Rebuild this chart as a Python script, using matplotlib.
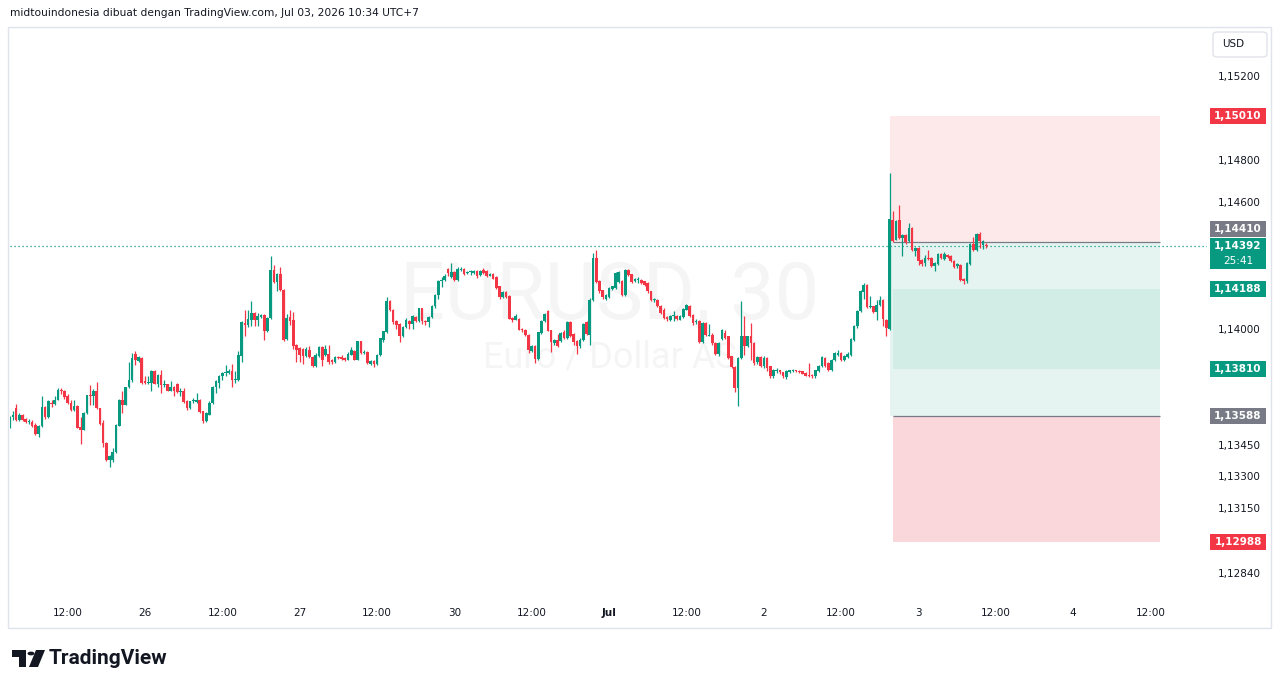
import numpy as np
import matplotlib
matplotlib.use("Agg")
import matplotlib.pyplot as plt
import matplotlib.transforms as mtransforms
from matplotlib.patches import Rectangle, FancyBboxPatch, Polygon, Circle

# EURUSD 30 menit, 25 Jun 03:00 - 3 Jul 10:30 (UTC+7)
opens = [
    1.13533, 1.13581, 1.13623, 1.13565, 1.13592, 1.13571, 1.13557, 1.13557, 1.13544, 1.13502,
    1.13540, 1.13627, 1.13581, 1.13650, 1.13642, 1.13660, 1.13711, 1.13706, 1.13679, 1.13650,
    1.13616, 1.13635, 1.13533, 1.13521, 1.13600, 1.13687, 1.13682, 1.13706, 1.13623, 1.13552,
    1.13460, 1.13375, 1.13378, 1.13413, 1.13540, 1.13660, 1.13639, 1.13723, 1.13758, 1.13882,
    1.13845, 1.13861, 1.13750, 1.13742, 1.13742, 1.13798, 1.13739, 1.13782, 1.13734, 1.13737,
    1.13707, 1.13726, 1.13739, 1.13698, 1.13706, 1.13655, 1.13624, 1.13655, 1.13652, 1.13663,
    1.13608, 1.13560, 1.13592, 1.13647, 1.13726, 1.13742, 1.13774, 1.13790, 1.13790, 1.13798,
    1.13755, 1.13755, 1.13872, 1.14027, 1.14019, 1.14043, 1.14075, 1.14040, 1.14056, 1.14067,
    1.13988, 1.14051, 1.14281, 1.14220, 1.14262, 1.14186, 1.13951, 1.14056, 1.14040, 1.13924,
    1.13909, 1.13905, 1.13869, 1.13901, 1.13866, 1.13821, 1.13869, 1.13912, 1.13874, 1.13880,
    1.13853, 1.13840, 1.13864, 1.13866, 1.13861, 1.13853, 1.13877, 1.13896, 1.13853, 1.13940,
    1.13885, 1.13890, 1.13834, 1.13845, 1.13834, 1.13874, 1.13948, 1.13983, 1.14130, 1.14091,
    1.14035, 1.14024, 1.13964, 1.14008, 1.14038, 1.14024, 1.14054, 1.14035, 1.14098, 1.14038,
    1.14030, 1.14056, 1.14106, 1.14162, 1.14225, 1.14230, 1.14283, 1.14246, 1.14268, 1.14230,
    1.14281, 1.14285, 1.14265, 1.14268, 1.14265, 1.14273, 1.14257, 1.14281, 1.14273, 1.14252,
    1.14262, 1.14246, 1.14201, 1.14151, 1.14173, 1.14157, 1.14051, 1.14043, 1.14046, 1.14000,
    1.13996, 1.13972, 1.13896, 1.13920, 1.13856, 1.13980, 1.14035, 1.14083, 1.13992, 1.13932,
    1.13945, 1.13940, 1.13983, 1.13956, 1.14030, 1.13975, 1.13940, 1.13916, 1.13945, 1.14030,
    1.13972, 1.14135, 1.14336, 1.14225, 1.14182, 1.14141, 1.14151, 1.14189, 1.14193, 1.14220,
    1.14225, 1.14162, 1.14277, 1.14260, 1.14225, 1.14233, 1.14233, 1.14225, 1.14217, 1.14178,
    1.14135, 1.14138, 1.14110, 1.14087, 1.14056, 1.14043, 1.14059, 1.14062, 1.14043, 1.14056,
    1.14091, 1.14106, 1.14067, 1.14032, 1.14038, 1.13935, 1.14027, 1.13967, 1.13972, 1.13932,
    1.13882, 1.13951, 1.13980, 1.13964, 1.13869, 1.13818, 1.13719, 1.13861, 1.13964, 1.13920,
    1.13964, 1.13932, 1.13840, 1.13866, 1.13825, 1.13861, 1.13821, 1.13774, 1.13798, 1.13802,
    1.13793, 1.13771, 1.13796, 1.13798, 1.13802, 1.13800, 1.13798, 1.13790, 1.13780, 1.13780,
    1.13774, 1.13798, 1.13821, 1.13861, 1.13837, 1.13806, 1.13850, 1.13877, 1.13885, 1.13850,
    1.13866, 1.13877, 1.13948, 1.14011, 1.14083, 1.14173, 1.14209, 1.14103, 1.14106, 1.14078,
    1.14114, 1.14138, 1.14043, 1.13999, 1.14518, 1.14423, 1.14518, 1.14431, 1.14447, 1.14415,
    1.14479, 1.14368, 1.14383, 1.14325, 1.14312, 1.14336, 1.14336, 1.14296, 1.14309, 1.14355,
    1.14331, 1.14352, 1.14347, 1.14323, 1.14296, 1.14304, 1.14236, 1.14225, 1.14309, 1.14404,
    1.14372, 1.14452, 1.14399, 1.14399,
]
highs = [
    1.13585, 1.13611, 1.13644, 1.13600, 1.13597, 1.13575, 1.13571, 1.13568, 1.13552, 1.13544,
    1.13682, 1.13635, 1.13660, 1.13663, 1.13682, 1.13720, 1.13717, 1.13711, 1.13692, 1.13663,
    1.13660, 1.13638, 1.13581, 1.13603, 1.13687, 1.13734, 1.13714, 1.13747, 1.13626, 1.13565,
    1.13463, 1.13402, 1.13434, 1.13546, 1.13666, 1.13706, 1.13726, 1.13842, 1.13885, 1.13893,
    1.13869, 1.13864, 1.13774, 1.13774, 1.13806, 1.13806, 1.13785, 1.13806, 1.13755, 1.13740,
    1.13750, 1.13730, 1.13745, 1.13719, 1.13719, 1.13660, 1.13658, 1.13671, 1.13695, 1.13666,
    1.13611, 1.13603, 1.13655, 1.13729, 1.13758, 1.13782, 1.13793, 1.13829, 1.13809, 1.13834,
    1.13798, 1.13893, 1.14035, 1.14087, 1.14087, 1.14130, 1.14080, 1.14075, 1.14070, 1.14070,
    1.14054, 1.14347, 1.14304, 1.14265, 1.14293, 1.14189, 1.14072, 1.14087, 1.14078, 1.13927,
    1.13912, 1.13909, 1.13912, 1.13919, 1.13869, 1.13885, 1.13919, 1.13916, 1.13924, 1.13924,
    1.13856, 1.13869, 1.13869, 1.13877, 1.13864, 1.13890, 1.13912, 1.13901, 1.13943, 1.13943,
    1.13901, 1.13893, 1.13853, 1.13850, 1.13880, 1.13956, 1.13990, 1.14150, 1.14135, 1.14095,
    1.14040, 1.14027, 1.14012, 1.14050, 1.14043, 1.14064, 1.14059, 1.14100, 1.14100, 1.14043,
    1.14060, 1.14113, 1.14165, 1.14230, 1.14245, 1.14260, 1.14290, 1.14312, 1.14275, 1.14295,
    1.14295, 1.14290, 1.14275, 1.14281, 1.14281, 1.14280, 1.14280, 1.14290, 1.14278, 1.14265,
    1.14265, 1.14249, 1.14205, 1.14180, 1.14178, 1.14160, 1.14055, 1.14072, 1.14050, 1.14003,
    1.14000, 1.13975, 1.13925, 1.13925, 1.13985, 1.14040, 1.14075, 1.14091, 1.13995, 1.13950,
    1.13975, 1.13985, 1.13996, 1.14035, 1.14035, 1.13980, 1.13945, 1.13955, 1.14027, 1.14035,
    1.14145, 1.14360, 1.14376, 1.14230, 1.14185, 1.14165, 1.14200, 1.14205, 1.14268, 1.14275,
    1.14230, 1.14282, 1.14282, 1.14262, 1.14240, 1.14245, 1.14236, 1.14228, 1.14220, 1.14180,
    1.14145, 1.14140, 1.14115, 1.14100, 1.14060, 1.14067, 1.14083, 1.14067, 1.14065, 1.14098,
    1.14116, 1.14113, 1.14070, 1.14045, 1.14043, 1.14030, 1.14032, 1.14024, 1.13978, 1.13935,
    1.13935, 1.14000, 1.13996, 1.13968, 1.13872, 1.13821, 1.13864, 1.14130, 1.14062, 1.13968,
    1.14027, 1.13935, 1.13870, 1.13870, 1.13869, 1.13866, 1.13825, 1.13810, 1.13815, 1.13806,
    1.13796, 1.13802, 1.13806, 1.13808, 1.13806, 1.13803, 1.13800, 1.13793, 1.13837, 1.13785,
    1.13806, 1.13830, 1.13870, 1.13864, 1.13840, 1.13856, 1.13890, 1.13900, 1.13888, 1.13875,
    1.13888, 1.13955, 1.14020, 1.14090, 1.14185, 1.14217, 1.14214, 1.14157, 1.14110, 1.14138,
    1.14157, 1.14141, 1.14046, 1.14737, 1.14558, 1.14515, 1.14589, 1.14452, 1.14452, 1.14502,
    1.14485, 1.14388, 1.14388, 1.14330, 1.14352, 1.14376, 1.14340, 1.14315, 1.14360, 1.14360,
    1.14365, 1.14357, 1.14350, 1.14326, 1.14312, 1.14308, 1.14240, 1.14315, 1.14408, 1.14436,
    1.14455, 1.14458, 1.14423, 1.14405,
]
lows = [
    1.13530, 1.13568, 1.13560, 1.13560, 1.13560, 1.13553, 1.13549, 1.13536, 1.13497, 1.13484,
    1.13536, 1.13571, 1.13576, 1.13628, 1.13639, 1.13660, 1.13690, 1.13668, 1.13644, 1.13608,
    1.13608, 1.13528, 1.13454, 1.13518, 1.13597, 1.13639, 1.13639, 1.13620, 1.13544, 1.13438,
    1.13372, 1.13343, 1.13370, 1.13410, 1.13537, 1.13600, 1.13636, 1.13720, 1.13747, 1.13826,
    1.13842, 1.13739, 1.13739, 1.13739, 1.13707, 1.13736, 1.13726, 1.13695, 1.13726, 1.13703,
    1.13703, 1.13682, 1.13695, 1.13682, 1.13648, 1.13613, 1.13619, 1.13647, 1.13647, 1.13600,
    1.13552, 1.13557, 1.13589, 1.13644, 1.13695, 1.13719, 1.13758, 1.13774, 1.13787, 1.13726,
    1.13742, 1.13752, 1.13840, 1.13964, 1.14008, 1.14011, 1.14011, 1.14015, 1.14050, 1.13948,
    1.13985, 1.14048, 1.14217, 1.14178, 1.14179, 1.13942, 1.13948, 1.14019, 1.13904, 1.13840,
    1.13840, 1.13834, 1.13866, 1.13861, 1.13818, 1.13818, 1.13866, 1.13821, 1.13869, 1.13834,
    1.13834, 1.13837, 1.13856, 1.13853, 1.13845, 1.13850, 1.13874, 1.13850, 1.13850, 1.13882,
    1.13880, 1.13834, 1.13826, 1.13818, 1.13830, 1.13870, 1.13935, 1.13980, 1.14085, 1.14025,
    1.14000, 1.13935, 1.13960, 1.14005, 1.14000, 1.14000, 1.14030, 1.14030, 1.14024, 1.14020,
    1.14010, 1.14051, 1.14100, 1.14140, 1.14200, 1.14225, 1.14249, 1.14240, 1.14225, 1.14225,
    1.14276, 1.14255, 1.14260, 1.14255, 1.14260, 1.14240, 1.14250, 1.14260, 1.14245, 1.14249,
    1.14236, 1.14189, 1.14140, 1.14145, 1.14145, 1.14045, 1.14030, 1.14040, 1.13992, 1.13985,
    1.13965, 1.13885, 1.13890, 1.13837, 1.13853, 1.13975, 1.14030, 1.13988, 1.13890, 1.13925,
    1.13915, 1.13935, 1.13950, 1.13950, 1.13960, 1.13925, 1.13880, 1.13910, 1.13940, 1.13970,
    1.13925, 1.14130, 1.14215, 1.14170, 1.14140, 1.14135, 1.14148, 1.14185, 1.14189, 1.14215,
    1.14157, 1.14157, 1.14252, 1.14215, 1.14220, 1.14215, 1.14212, 1.14205, 1.14170, 1.14130,
    1.14125, 1.14105, 1.14070, 1.14045, 1.14035, 1.14035, 1.14035, 1.14040, 1.14040, 1.14052,
    1.14088, 1.14058, 1.14020, 1.14025, 1.13932, 1.13932, 1.13965, 1.13964, 1.13925, 1.13877,
    1.13870, 1.13945, 1.13950, 1.13856, 1.13812, 1.13698, 1.13632, 1.13856, 1.13877, 1.13915,
    1.13853, 1.13830, 1.13835, 1.13818, 1.13814, 1.13800, 1.13765, 1.13768, 1.13790, 1.13787,
    1.13768, 1.13760, 1.13790, 1.13793, 1.13793, 1.13788, 1.13783, 1.13774, 1.13771, 1.13765,
    1.13765, 1.13795, 1.13818, 1.13820, 1.13800, 1.13800, 1.13845, 1.13870, 1.13845, 1.13845,
    1.13860, 1.13870, 1.13940, 1.14005, 1.14080, 1.14141, 1.14100, 1.14099, 1.14075, 1.14040,
    1.14106, 1.14015, 1.13964, 1.13996, 1.14410, 1.14420, 1.14425, 1.14344, 1.14404, 1.14410,
    1.14368, 1.14344, 1.14304, 1.14296, 1.14300, 1.14325, 1.14293, 1.14273, 1.14305, 1.14330,
    1.14328, 1.14336, 1.14316, 1.14290, 1.14288, 1.14225, 1.14214, 1.14217, 1.14305, 1.14368,
    1.14368, 1.14383, 1.14379, 1.14385,
]
closes = [
    1.13581, 1.13592, 1.13568, 1.13592, 1.13565, 1.13557, 1.13560, 1.13540, 1.13502, 1.13540,
    1.13627, 1.13581, 1.13655, 1.13642, 1.13663, 1.13711, 1.13703, 1.13674, 1.13647, 1.13616,
    1.13635, 1.13530, 1.13521, 1.13600, 1.13685, 1.13682, 1.13706, 1.13623, 1.13549, 1.13460,
    1.13375, 1.13394, 1.13413, 1.13543, 1.13663, 1.13639, 1.13723, 1.13758, 1.13861, 1.13850,
    1.13864, 1.13745, 1.13742, 1.13748, 1.13798, 1.13739, 1.13782, 1.13734, 1.13737, 1.13706,
    1.13726, 1.13703, 1.13698, 1.13707, 1.13651, 1.13624, 1.13655, 1.13658, 1.13663, 1.13603,
    1.13560, 1.13600, 1.13650, 1.13726, 1.13750, 1.13777, 1.13790, 1.13793, 1.13798, 1.13755,
    1.13758, 1.13877, 1.14030, 1.14019, 1.14046, 1.14075, 1.14043, 1.14059, 1.14067, 1.13988,
    1.14051, 1.14281, 1.14220, 1.14262, 1.14182, 1.13945, 1.14051, 1.14035, 1.13916, 1.13901,
    1.13877, 1.13869, 1.13905, 1.13866, 1.13821, 1.13877, 1.13912, 1.13853, 1.13904, 1.13840,
    1.13840, 1.13866, 1.13861, 1.13856, 1.13853, 1.13882, 1.13901, 1.13853, 1.13940, 1.13885,
    1.13890, 1.13837, 1.13845, 1.13834, 1.13877, 1.13954, 1.13988, 1.14133, 1.14087, 1.14030,
    1.14019, 1.13964, 1.14008, 1.14043, 1.14024, 1.14059, 1.14035, 1.14098, 1.14035, 1.14030,
    1.14056, 1.14110, 1.14162, 1.14225, 1.14233, 1.14249, 1.14265, 1.14268, 1.14230, 1.14285,
    1.14285, 1.14260, 1.14268, 1.14273, 1.14276, 1.14249, 1.14276, 1.14265, 1.14249, 1.14260,
    1.14238, 1.14193, 1.14151, 1.14173, 1.14151, 1.14048, 1.14040, 1.14059, 1.13996, 1.13992,
    1.13972, 1.13897, 1.13920, 1.13856, 1.13983, 1.14035, 1.14072, 1.13991, 1.13935, 1.13945,
    1.13920, 1.13980, 1.13956, 1.14030, 1.13964, 1.13935, 1.13916, 1.13948, 1.14024, 1.13977,
    1.14138, 1.14336, 1.14220, 1.14178, 1.14151, 1.14162, 1.14193, 1.14201, 1.14265, 1.14268,
    1.14162, 1.14277, 1.14257, 1.14220, 1.14236, 1.14236, 1.14217, 1.14209, 1.14178, 1.14135,
    1.14138, 1.14110, 1.14075, 1.14051, 1.14046, 1.14062, 1.14062, 1.14046, 1.14059, 1.14094,
    1.14113, 1.14062, 1.14027, 1.14038, 1.13935, 1.14027, 1.13972, 1.13972, 1.13932, 1.13882,
    1.13932, 1.13992, 1.13956, 1.13861, 1.13818, 1.13719, 1.13861, 1.13964, 1.13920, 1.13964,
    1.13932, 1.13837, 1.13866, 1.13825, 1.13861, 1.13814, 1.13774, 1.13806, 1.13806, 1.13793,
    1.13774, 1.13798, 1.13802, 1.13802, 1.13798, 1.13793, 1.13787, 1.13777, 1.13774, 1.13774,
    1.13802, 1.13825, 1.13866, 1.13825, 1.13806, 1.13853, 1.13885, 1.13885, 1.13850, 1.13869,
    1.13882, 1.13951, 1.14015, 1.14086, 1.14178, 1.14209, 1.14103, 1.14106, 1.14078, 1.14114,
    1.14138, 1.14046, 1.14004, 1.14521, 1.14415, 1.14510, 1.14431, 1.14447, 1.14410, 1.14479,
    1.14372, 1.14383, 1.14320, 1.14309, 1.14336, 1.14331, 1.14296, 1.14312, 1.14355, 1.14336,
    1.14355, 1.14341, 1.14320, 1.14293, 1.14307, 1.14230, 1.14225, 1.14312, 1.14404, 1.14372,
    1.14452, 1.14415, 1.14415, 1.14392,
]

# sumbu waktu (indeks bar)
time_ticks = [18, 42, 66, 90, 114, 138, 162, 186, 210, 234, 258, 282, 306, 330, 354]
time_labels = ["12:00", "26", "12:00", "27", "12:00", "30", "12:00", "Jul",
               "12:00", "2", "12:00", "3", "12:00", "4", "12:00"]

# sumbu harga
price_ticks = [1.15200, 1.14800, 1.14600, 1.14000, 1.13450, 1.13300, 1.13150, 1.12840]

# alat posisi (harga)
stop_short = 1.15010
entry_short = 1.14410
target_short = 1.13588
zone_dark_top = 1.14188
zone_dark_bottom = 1.13810
stop_long = 1.12988
tool_start, tool_end = 273, 357
last_price = 1.14392
countdown = "25:41"

UP = "#089981"
DOWN = "#f23645"
GRAY = "#787b86"
TXT = "#131722"

W, H = 1281, 688
fig = plt.figure(figsize=(W / 100, H / 100), dpi=100)
fig.patch.set_facecolor("white")

def fx(px):
    return px / W

def fy(py):
    return 1 - py / H

ax = fig.add_axes([fx(10), fy(597), fx(1197), 571 / H])
ax.set_facecolor("none")
for s in ax.spines.values():
    s.set_visible(False)
ax.set_xlim(0.12, 371.5)
ax.set_ylim(1.12727, 1.15437)

o = np.array(opens)
c = np.array(closes)
h = np.maximum(np.array(highs), np.maximum(o, c))
l = np.minimum(np.array(lows), np.minimum(o, c))
idx = np.arange(len(o))
cols = np.where(c >= o, UP, DOWN)

# zona alat posisi
ax.add_patch(Rectangle((tool_start, entry_short), tool_end - tool_start, stop_short - entry_short,
                       facecolor="#fde9ea", lw=0, zorder=1))
ax.add_patch(Rectangle((tool_start, target_short), tool_end - tool_start, entry_short - target_short,
                       facecolor="#e6f4f1", lw=0, zorder=1))
ax.add_patch(Rectangle((tool_start + 1, zone_dark_bottom), tool_end - tool_start - 1,
                       zone_dark_top - zone_dark_bottom, facecolor="#d2ece6", lw=0, zorder=1.1))
ax.add_patch(Rectangle((tool_start + 1, stop_long), tool_end - tool_start - 1, target_short - stop_long,
                       facecolor="#fad7da", lw=0, zorder=1))
ax.hlines([entry_short, target_short], tool_start + 1, tool_end, colors=GRAY, lw=0.9, zorder=2)

# garis harga terakhir
ax.axhline(last_price, color=UP, lw=0.9, ls=(0, (1, 2.2)), zorder=2)

# candle
ax.vlines(idx, l, h, colors=cols, lw=0.9, zorder=3)
ax.bar(idx, np.maximum(np.abs(c - o), 0.00005), bottom=np.minimum(o, c), width=0.82,
       color=cols, linewidth=0, zorder=4)

# watermark
ax.text(fx(610), fy(318), "EURUSD, 30", transform=fig.transFigure, ha="center", va="baseline",
        fontsize=57, family="Roboto", color="#f5f5f5", zorder=0)
ax.text(fx(610), fy(368), "Euro / Dollar AS", transform=fig.transFigure, ha="center", va="baseline",
        fontsize=26, family="Roboto", color="#f5f5f5", zorder=0)

# sumbu
ax.set_xticks(time_ticks)
ax.set_xticklabels(time_labels)
for t in ax.get_xticklabels():
    if t.get_text() == "Jul":
        t.set_fontweight("bold")
ax.tick_params(axis="x", length=0, pad=8, labelsize=7.5, labelcolor=TXT)
ax.yaxis.tick_right()
ax.set_yticks(price_ticks)
ax.set_yticklabels([f"{p:.5f}".replace(".", ",") for p in price_ticks])
ax.tick_params(axis="y", length=0, pad=8, labelsize=7.5, labelcolor=TXT)

# label harga berwarna
bt = mtransforms.blended_transform_factory(fig.transFigure, ax.transData)
px_h = (1.15437 - 1.12727) / 571

def price_box(level, color, text, shift=0.0):
    yc = level + shift
    ax.add_patch(Rectangle((fx(1210), yc - 8 * px_h), fx(56), 16 * px_h, transform=bt,
                           facecolor=color, lw=0, clip_on=False, zorder=6))
    ax.text(fx(1238), yc, text, transform=bt, ha="center", va="center", color="white",
            fontsize=7.5, fontweight="bold", clip_on=False, zorder=7)

fmt = lambda p: f"{p:.5f}".replace(".", ",")
price_box(stop_short, DOWN, fmt(stop_short))
price_box(entry_short, GRAY, fmt(entry_short), shift=13 * px_h)
price_box(zone_dark_top, UP, fmt(zone_dark_top))
price_box(zone_dark_bottom, UP, fmt(zone_dark_bottom))
price_box(target_short, GRAY, fmt(target_short))
price_box(stop_long, DOWN, fmt(stop_long))

ax.add_patch(Rectangle((fx(1210), last_price - 23 * px_h), fx(56), 31 * px_h, transform=bt,
                       facecolor=UP, lw=0, clip_on=False, zorder=6))
ax.text(fx(1238), last_price, fmt(last_price), transform=bt, ha="center", va="center",
        color="white", fontsize=7.5, fontweight="bold", clip_on=False, zorder=7)
ax.text(fx(1238), last_price - 15 * px_h, countdown, transform=bt, ha="center", va="center",
        color="white", fontsize=7.5, clip_on=False, zorder=7)

# bingkai dan kotak USD
fig.add_artist(Rectangle((fx(7.5), fy(627.5)), fx(1263), 601 / H, transform=fig.transFigure,
                         fill=False, edgecolor="#e0e3eb", lw=1))
fig.add_artist(FancyBboxPatch((fx(1213), fy(57)), fx(54), 25 / H, transform=fig.transFigure,
                              boxstyle="round,pad=0,rounding_size=0.004", facecolor="white",
                              edgecolor="#e0e3eb", lw=1))
fig.text(fx(1222), fy(44), "USD", fontsize=7.5, color=TXT, va="center", ha="left")

# judul
fig.text(fx(10), fy(13), "midtouindonesia dibuat dengan TradingView.com, Jul 03, 2026 10:34 UTC+7",
         fontsize=7.7, color=TXT, va="center", ha="left")

# logo TradingView
fig.add_artist(Polygon([(fx(12), fy(650)), (fx(26), fy(650)), (fx(26), fy(667)), (fx(19), fy(667)),
                        (fx(19), fy(657)), (fx(12), fy(657))], closed=True, transform=fig.transFigure,
                       facecolor=TXT, lw=0))
fig.add_artist(Circle((fx(31), fy(653.5)), 3.5 / W, transform=fig.transFigure, facecolor=TXT, lw=0))
fig.add_artist(Polygon([(fx(36), fy(650)), (fx(45), fy(650)), (fx(38), fy(667)), (fx(29), fy(667))],
                       closed=True, transform=fig.transFigure, facecolor=TXT, lw=0))
fig.text(fx(49), fy(658), "TradingView", fontsize=15, fontweight="bold", family="Roboto",
         color=TXT, va="center", ha="left")

fig.savefig("out.png", dpi=100, facecolor="white")
